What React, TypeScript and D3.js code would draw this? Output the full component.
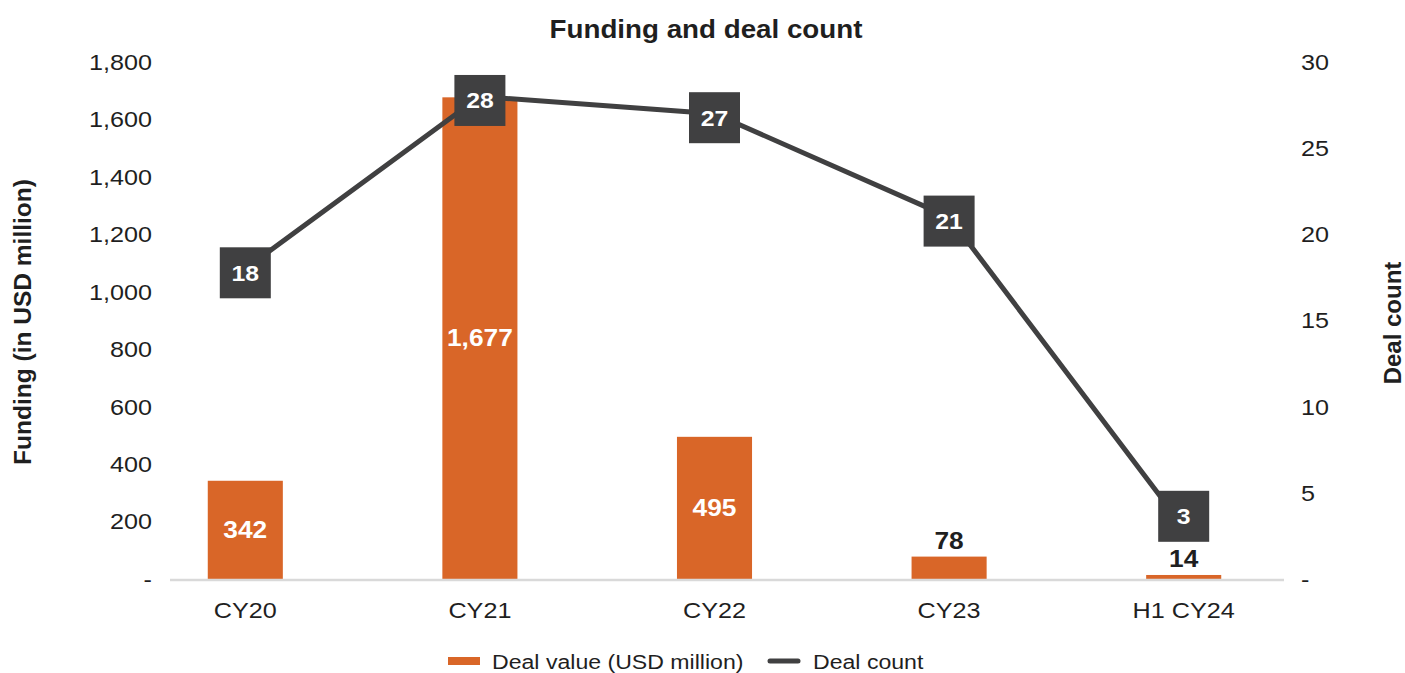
import React from "react";
import * as d3 from "d3";

// chart data
const categories = ["CY20", "CY21", "CY22", "CY23", "H1 CY24"];
const dealValue = [342, 1677, 495, 78, 14];
const dealCount = [18, 28, 27, 21, 3];
const leftTicks = [0, 200, 400, 600, 800, 1000, 1200, 1400, 1600, 1800];
const rightTicks = [0, 5, 10, 15, 20, 25, 30];

const W = 1405;
const H = 673;
const FONT = "'Liberation Sans', Arial, Helvetica, sans-serif";
const ORANGE = "#D96628";
const DARK = "#404041";
const TEXT = "#1f1f1f";

// 가로로 살짝 늘린 텍스트 (원본 폰트가 더 넓음)
const T = ({ x, y, sx = 1.12, anchor = "start", size, bold = false, fill = TEXT, dy, children }: any) => (
  <text
    transform={`translate(${x},${y}) scale(${sx},1)`}
    textAnchor={anchor}
    fontSize={size}
    fontWeight={bold ? "bold" : "normal"}
    fill={fill}
    dy={dy}
  >
    {children}
  </text>
);

const App = () => {
  // 스케일
  const x = d3.scaleBand<string>().domain(categories).range([128, 1301]).paddingInner(0.68).paddingOuter(0.34);
  const yL = d3.scaleLinear().domain([0, 1800]).range([579, 62]);
  const yR = d3.scaleLinear().domain([0, 30]).range([579, 62]);
  const cx = (c: string) => (x(c) as number) + x.bandwidth() / 2;
  const fmt = (v: number) => (v === 0 ? "-" : d3.format(",")(v));

  const line = d3
    .line<number>()
    .x((_, i) => cx(categories[i]))
    .y((d) => yR(d));

  const box = 51;

  return (
    <svg width={W} height={H} style={{ position: "absolute", left: 0, top: 0 }} fontFamily={FONT}>
      <rect width={W} height={H} fill="#fff" />
      <T x={706} y={38} sx={1.11} anchor="middle" size={25} bold>
        Funding and deal count
      </T>

      {/* left axis */}
      {leftTicks.map((t) => (
        <T key={"l" + t} x={152} y={yL(t)} dy="0.35em" anchor="end" size={22.5}>
          {fmt(t)}
        </T>
      ))}
      {/* right axis */}
      {rightTicks.map((t) => (
        <T key={"r" + t} x={1301} y={yR(t)} dy="0.35em" size={22.5}>
          {fmt(t)}
        </T>
      ))}

      <text transform={`translate(31,322) rotate(-90)`} textAnchor="middle" fontSize={24.5} fontWeight="bold" fill={TEXT}>
        Funding (in USD million)
      </text>
      <text transform={`translate(1401,323) rotate(-90)`} textAnchor="middle" fontSize={24} fontWeight="bold" fill={TEXT}>
        Deal count
      </text>

      {/* bars */}
      {dealValue.map((v, i) => (
        <rect key={"b" + i} x={x(categories[i])} y={yL(v)} width={x.bandwidth()} height={yL(0) - yL(v)} fill={ORANGE} />
      ))}

      {/* baseline */}
      <line x1={170} x2={1284} y1={yL(0) + 1} y2={yL(0) + 1} stroke="#d9d9d9" strokeWidth={2.5} />

      {/* x labels */}
      {categories.map((c) => (
        <T key={"x" + c} x={cx(c)} y={618} anchor="middle" size={22.5}>
          {c}
        </T>
      ))}

      {/* bar labels */}
      {dealValue.map((v, i) => {
        const inside = yL(0) - yL(v) > 60;
        const y = inside ? (yL(v) + yL(0)) / 2 : yL(v) - 16;
        return (
          <T key={"bl" + i} x={cx(categories[i])} y={y} dy="0.35em" anchor="middle" size={23.5} bold fill={inside ? "#fff" : TEXT}>
            {fmt(v)}
          </T>
        );
      })}

      {/* line */}
      <path d={line(dealCount) || ""} fill="none" stroke={DARK} strokeWidth={5} />

      {dealCount.map((v, i) => (
        <g key={"p" + i} transform={`translate(${cx(categories[i])},${yR(v) + (i === dealCount.length - 1 ? -11 : 4)})`}>
          <rect x={-box / 2} y={-box / 2} width={box} height={box} fill={DARK} />
          <T x={0} y={0} dy="0.35em" anchor="middle" size={22.5} sx={1.1} bold fill="#fff">
            {v}
          </T>
        </g>
      ))}

      {/* legend */}
      <rect x={448} y={657} width={32} height={8} fill={ORANGE} />
      <T x={492} y={669} size={21} sx={1.1}>
        Deal value (USD million)
      </T>
      <line x1={770} x2={798} y1={661} y2={661} stroke={DARK} strokeWidth={5} strokeLinecap="round" />
      <T x={813} y={669} size={21} sx={1.1}>
        Deal count
      </T>
    </svg>
  );
};

export default App;
